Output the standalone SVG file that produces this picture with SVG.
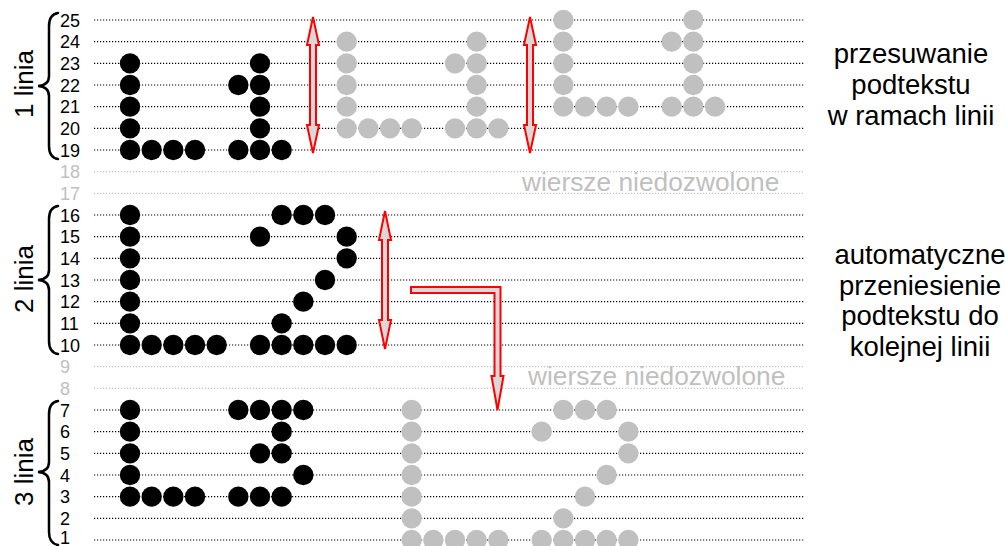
<svg xmlns="http://www.w3.org/2000/svg" width="1005" height="546" viewBox="0 0 1005 546">
<style>
.ln{stroke:#000;stroke-width:1.2;stroke-dasharray:1.2 1.8;fill:none}
.lg{stroke:#c0c0c0;stroke-width:1.2;stroke-dasharray:1.2 1.8;fill:none}
.num{font-family:"Liberation Sans",Arial,sans-serif;font-size:18px;fill:#000}
.numg{font-family:"Liberation Sans",Arial,sans-serif;font-size:18px;fill:#c0c0c0}
.lab{font-family:"Liberation Sans",Arial,sans-serif;font-size:26px;fill:#000;text-anchor:middle}
.side{font-family:"Liberation Sans",Arial,sans-serif;font-size:27.5px;fill:#000;text-anchor:middle}
.forb{font-family:"Liberation Sans",Arial,sans-serif;font-size:26.3px;fill:#c0c0c0}
.br{fill:none;stroke:#000;stroke-width:2.5;stroke-linecap:round}
.b circle{fill:#000}
.g circle{fill:#c0c0c0}
.arr{fill:#d9d9d9;stroke:#ff0000;stroke-width:2;stroke-linejoin:miter}
</style>
<rect width="1005" height="546" fill="#fff"/>
<g id="grid">
<line class="ln" x1="94" x2="805" y1="20" y2="20"/>
<line class="ln" x1="94" x2="805" y1="41.67" y2="41.67"/>
<line class="ln" x1="94" x2="805" y1="63.33" y2="63.33"/>
<line class="ln" x1="94" x2="805" y1="85" y2="85"/>
<line class="ln" x1="94" x2="805" y1="106.67" y2="106.67"/>
<line class="ln" x1="94" x2="805" y1="128.33" y2="128.33"/>
<line class="ln" x1="94" x2="805" y1="150" y2="150"/>
<line class="lg" x1="94" x2="805" y1="171.67" y2="171.67"/>
<line class="lg" x1="94" x2="805" y1="193.33" y2="193.33"/>
<line class="ln" x1="94" x2="805" y1="215" y2="215"/>
<line class="ln" x1="94" x2="805" y1="236.67" y2="236.67"/>
<line class="ln" x1="94" x2="805" y1="258.33" y2="258.33"/>
<line class="ln" x1="94" x2="805" y1="280" y2="280"/>
<line class="ln" x1="94" x2="805" y1="301.67" y2="301.67"/>
<line class="ln" x1="94" x2="805" y1="323.33" y2="323.33"/>
<line class="ln" x1="94" x2="805" y1="345" y2="345"/>
<line class="lg" x1="94" x2="805" y1="366.67" y2="366.67"/>
<line class="lg" x1="94" x2="805" y1="388.33" y2="388.33"/>
<line class="ln" x1="94" x2="805" y1="410" y2="410"/>
<line class="ln" x1="94" x2="805" y1="431.67" y2="431.67"/>
<line class="ln" x1="94" x2="805" y1="453.33" y2="453.33"/>
<line class="ln" x1="94" x2="805" y1="475" y2="475"/>
<line class="ln" x1="94" x2="805" y1="496.67" y2="496.67"/>
<line class="ln" x1="94" x2="805" y1="518.33" y2="518.33"/>
<line class="ln" x1="94" x2="805" y1="540" y2="540"/>
</g>
<g id="row-numbers">
<text class="num" x="60" y="26.5">25</text>
<text class="num" x="60" y="48.2">24</text>
<text class="num" x="60" y="69.8">23</text>
<text class="num" x="60" y="91.5">22</text>
<text class="num" x="60" y="113.2">21</text>
<text class="num" x="60" y="134.8">20</text>
<text class="num" x="60" y="156.5">19</text>
<text class="numg" x="60" y="178.2">18</text>
<text class="numg" x="60" y="199.8">17</text>
<text class="num" x="60" y="221.5">16</text>
<text class="num" x="60" y="243.2">15</text>
<text class="num" x="60" y="264.8">14</text>
<text class="num" x="60" y="286.5">13</text>
<text class="num" x="60" y="308.2">12</text>
<text class="num" x="60" y="329.8">11</text>
<text class="num" x="60" y="351.5">10</text>
<text class="numg" x="60" y="373.2">9</text>
<text class="numg" x="60" y="394.8">8</text>
<text class="num" x="60" y="416.5">7</text>
<text class="num" x="60" y="438.2">6</text>
<text class="num" x="60" y="459.8">5</text>
<text class="num" x="60" y="481.5">4</text>
<text class="num" x="60" y="503.2">3</text>
<text class="num" x="60" y="524.8">2</text>
<text class="num" x="60" y="544">1</text>
</g>
<g id="linia-1">
<path class="br" d="M58,13 C52,14 49,18 49,26 L49,76 C49,82 45,85.5 38,86 C45,86.5 49,90 49,96 L49,146 C49,154 52,158 58,159"/>
<text class="lab" transform="translate(33,84) rotate(-90)">1 linia</text>
</g>
<g id="linia-2">
<path class="br" d="M58,206 C52,207 49,211 49,219 L49,270 C49,276 45,279.5 38,280 C45,280.5 49,284 49,290 L49,341 C49,349 52,353 58,354"/>
<text class="lab" transform="translate(33,279) rotate(-90)">2 linia</text>
</g>
<g id="linia-3">
<path class="br" d="M58,401 C52,402 49,406 49,414 L49,462 C49,468 45,471.5 38,472 C45,472.5 49,476 49,482 L49,532 C49,540 52,544 58,545"/>
<text class="lab" transform="translate(33,472) rotate(-90)">3 linia</text>
</g>
<g transform="translate(130,20) scale(21.6667)">
<g id="line1-L" class="b">
<circle cx="0" cy="2" r="0.47"/><circle cx="0" cy="3" r="0.47"/><circle cx="0" cy="4" r="0.47"/><circle cx="0" cy="5" r="0.47"/><circle cx="0" cy="6" r="0.47"/>
<circle cx="1" cy="6" r="0.47"/><circle cx="2" cy="6" r="0.47"/><circle cx="3" cy="6" r="0.47"/>
</g>
<g id="line1-1" class="b">
<circle cx="6" cy="2" r="0.47"/><circle cx="6" cy="3" r="0.47"/><circle cx="6" cy="4" r="0.47"/><circle cx="6" cy="5" r="0.47"/><circle cx="6" cy="6" r="0.47"/>
<circle cx="5" cy="3" r="0.47"/><circle cx="5" cy="6" r="0.47"/><circle cx="7" cy="6" r="0.47"/>
</g>
<g id="line1-L-up1" class="g">
<circle cx="10" cy="1" r="0.47"/><circle cx="10" cy="2" r="0.47"/><circle cx="10" cy="3" r="0.47"/><circle cx="10" cy="4" r="0.47"/><circle cx="10" cy="5" r="0.47"/>
<circle cx="11" cy="5" r="0.47"/><circle cx="12" cy="5" r="0.47"/><circle cx="13" cy="5" r="0.47"/>
</g>
<g id="line1-1-up1" class="g">
<circle cx="16" cy="1" r="0.47"/><circle cx="16" cy="2" r="0.47"/><circle cx="16" cy="3" r="0.47"/><circle cx="16" cy="4" r="0.47"/><circle cx="16" cy="5" r="0.47"/>
<circle cx="15" cy="2" r="0.47"/><circle cx="15" cy="5" r="0.47"/><circle cx="17" cy="5" r="0.47"/>
</g>
<g id="line1-L-up2" class="g">
<circle cx="20" cy="0" r="0.47"/><circle cx="20" cy="1" r="0.47"/><circle cx="20" cy="2" r="0.47"/><circle cx="20" cy="3" r="0.47"/><circle cx="20" cy="4" r="0.47"/>
<circle cx="21" cy="4" r="0.47"/><circle cx="22" cy="4" r="0.47"/><circle cx="23" cy="4" r="0.47"/>
</g>
<g id="line1-1-up2" class="g">
<circle cx="26" cy="0" r="0.47"/><circle cx="26" cy="1" r="0.47"/><circle cx="26" cy="2" r="0.47"/><circle cx="26" cy="3" r="0.47"/><circle cx="26" cy="4" r="0.47"/>
<circle cx="25" cy="1" r="0.47"/><circle cx="25" cy="4" r="0.47"/><circle cx="27" cy="4" r="0.47"/>
</g>
<g id="line2-L" class="b">
<circle cx="0" cy="9" r="0.47"/><circle cx="0" cy="10" r="0.47"/><circle cx="0" cy="11" r="0.47"/><circle cx="0" cy="12" r="0.47"/><circle cx="0" cy="13" r="0.47"/><circle cx="0" cy="14" r="0.47"/><circle cx="0" cy="15" r="0.47"/>
<circle cx="1" cy="15" r="0.47"/><circle cx="2" cy="15" r="0.47"/><circle cx="3" cy="15" r="0.47"/><circle cx="4" cy="15" r="0.47"/>
</g>
<g id="line2-2" class="b">
<circle cx="7" cy="9" r="0.47"/><circle cx="8" cy="9" r="0.47"/><circle cx="9" cy="9" r="0.47"/>
<circle cx="6" cy="10" r="0.47"/><circle cx="10" cy="10" r="0.47"/>
<circle cx="10" cy="11" r="0.47"/>
<circle cx="9" cy="12" r="0.47"/>
<circle cx="8" cy="13" r="0.47"/>
<circle cx="7" cy="14" r="0.47"/>
<circle cx="6" cy="15" r="0.47"/><circle cx="7" cy="15" r="0.47"/><circle cx="8" cy="15" r="0.47"/><circle cx="9" cy="15" r="0.47"/><circle cx="10" cy="15" r="0.47"/>
</g>
<g id="line3-L" class="b">
<circle cx="0" cy="18" r="0.47"/><circle cx="0" cy="19" r="0.47"/><circle cx="0" cy="20" r="0.47"/><circle cx="0" cy="21" r="0.47"/><circle cx="0" cy="22" r="0.47"/>
<circle cx="1" cy="22" r="0.47"/><circle cx="2" cy="22" r="0.47"/><circle cx="3" cy="22" r="0.47"/>
</g>
<g id="line3-3" class="b">
<circle cx="5" cy="18" r="0.47"/><circle cx="6" cy="18" r="0.47"/><circle cx="7" cy="18" r="0.47"/><circle cx="8" cy="18" r="0.47"/>
<circle cx="7" cy="19" r="0.47"/>
<circle cx="6" cy="20" r="0.47"/><circle cx="7" cy="20" r="0.47"/>
<circle cx="8" cy="21" r="0.47"/>
<circle cx="5" cy="22" r="0.47"/><circle cx="6" cy="22" r="0.47"/><circle cx="7" cy="22" r="0.47"/>
</g>
<g id="line3-L-moved" class="g">
<circle cx="13" cy="18" r="0.47"/><circle cx="13" cy="19" r="0.47"/><circle cx="13" cy="20" r="0.47"/><circle cx="13" cy="21" r="0.47"/><circle cx="13" cy="22" r="0.47"/><circle cx="13" cy="23" r="0.47"/><circle cx="13" cy="24" r="0.47"/>
<circle cx="14" cy="24" r="0.47"/><circle cx="15" cy="24" r="0.47"/><circle cx="16" cy="24" r="0.47"/><circle cx="17" cy="24" r="0.47"/>
</g>
<g id="line3-2-moved" class="g">
<circle cx="20" cy="18" r="0.47"/><circle cx="21" cy="18" r="0.47"/><circle cx="22" cy="18" r="0.47"/>
<circle cx="19" cy="19" r="0.47"/><circle cx="23" cy="19" r="0.47"/>
<circle cx="23" cy="20" r="0.47"/>
<circle cx="22" cy="21" r="0.47"/>
<circle cx="21" cy="22" r="0.47"/>
<circle cx="20" cy="23" r="0.47"/>
<circle cx="19" cy="24" r="0.47"/><circle cx="20" cy="24" r="0.47"/><circle cx="21" cy="24" r="0.47"/><circle cx="22" cy="24" r="0.47"/><circle cx="23" cy="24" r="0.47"/>
</g>
</g>
<g id="forbidden-labels">
<text class="forb" x="522" y="191">wiersze niedozwolone</text>
<text class="forb" x="528" y="385">wiersze niedozwolone</text>
</g>
<g id="note-shift">
<text class="side" x="911" y="63">przesuwanie</text>
<text class="side" x="911" y="94">podtekstu</text>
<text class="side" x="911" y="125">w ramach linii</text>
</g>
<g id="note-wrap">
<text class="side" x="920" y="264">automatyczne</text>
<text class="side" x="920" y="295">przeniesienie</text>
<text class="side" x="920" y="325">podtekstu do</text>
<text class="side" x="920" y="356">kolejnej linii</text>
</g>
<g id="connectors">
<polygon class="arr" points="313,17 319,45 316,45 316,125 319,125 313,153 307,125 310,125 310,45 307,45"/>
<polygon class="arr" points="530,17 536,45 533,45 533,125 536,125 530,153 524,125 527,125 527,45 524,45"/>
<polygon class="arr" points="385,211 391,240 388,240 388,320 391,320 385,349 379,320 382,320 382,240 379,240"/>
<polygon class="arr" points="411,287 500.5,287 500.5,376 503.5,376 497.5,410 491.5,376 494.5,376 494.5,293 411,293"/>
</g>
</svg>
